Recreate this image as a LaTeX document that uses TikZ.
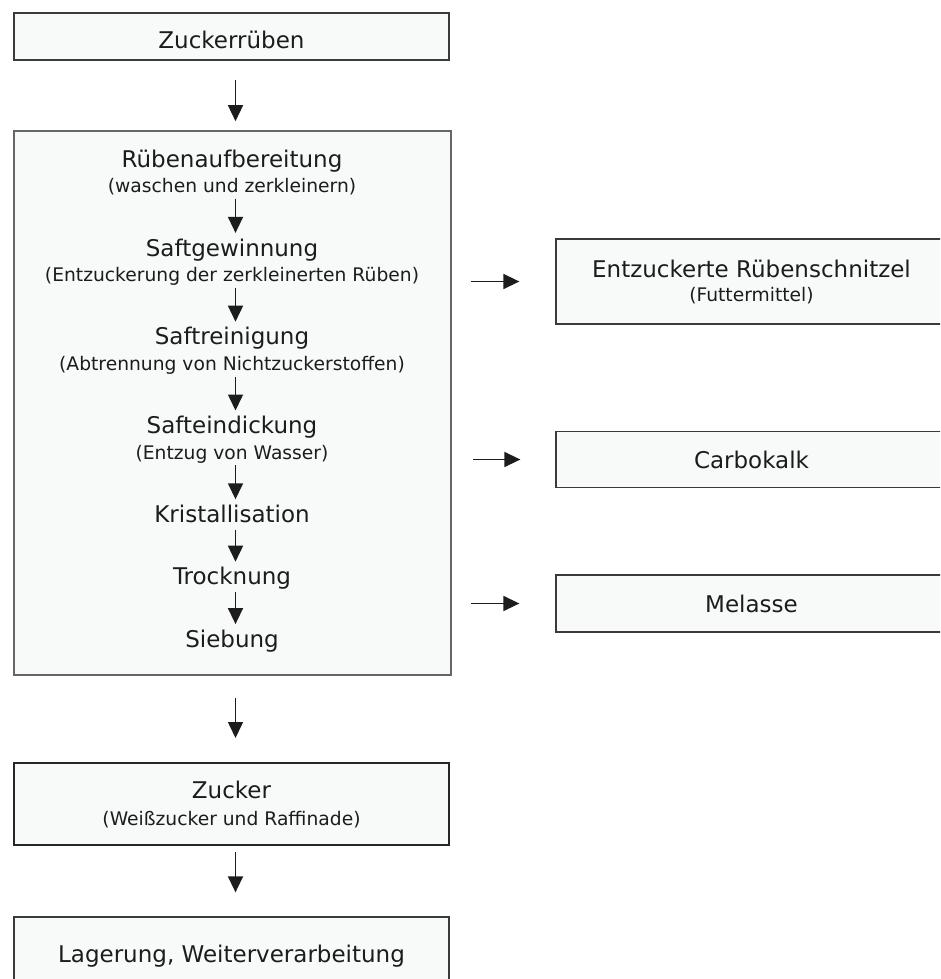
\documentclass[tikz,border=0pt]{standalone}
\usepackage{fontspec}
\setmainfont{DejaVu Sans}
\usetikzlibrary{positioning,arrows.meta}

\definecolor{boxfill}{HTML}{F8F9F9}
\definecolor{boxline}{HTML}{3A3A3A}
\definecolor{inktext}{HTML}{1C1C1C}

\newcommand\titlefont{\fontsize{23}{27}\selectfont}
\newcommand\subfont{\fontsize{18.7}{27}\selectfont}

\tikzset{
  box/.style={draw=boxline, line width=1.3pt, fill=boxfill, text=inktext, font=\titlefont,
    align=center, inner sep=0pt, minimum width=435pt},
  sidebox/.style={box, minimum width=391pt},
  steptitle/.style={text=inktext, font=\titlefont, inner sep=0pt, text height=17.5pt, text depth=5.5pt},
  stepsub/.style={text=inktext, font=\subfont, inner sep=0pt, text height=14pt, text depth=4.5pt},
  arr/.style={-{Triangle[width=15pt,length=16pt]}, line width=1.5pt, draw=inktext},
}

\begin{document}
\begin{tikzpicture}[x=1pt, y=-1pt, node distance=5.5pt]
\useasboundingbox (0,0) rectangle (940,979);
\clip (0,0) rectangle (940,979);
\coordinate (axis) at (235.5,0);

\node[box, minimum height=47pt, text height=24pt, text depth=0pt] (rueben) at (231.5,36.5) {Zuckerrüben};
\node[box, draw=black!60, line width=1.6pt, minimum width=437pt, minimum height=544pt] (proc) at (232.5,403) {};
\node[box, draw=black!85, line width=2pt, minimum height=82pt] (zucker) at (231.5,804)
  {Zucker\\\subfont(Weißzucker und Raffinade)};
\node[box, minimum height=78pt] (lager) at (231.5,956) {Lagerung, Weiterverarbeitung};

% steps inside the process box
\node[steptitle, anchor=base] (aufb) at (232,167.3) {Rübenaufbereitung};
\node[stepsub, below=of aufb] (aufbsub) {(waschen und zerkleinern)};
\node[steptitle, below=41pt of aufbsub] (gewin) {Saftgewinnung};
\node[stepsub, below=of gewin] (gewinsub) {(Entzuckerung der zerkleinerten Rüben)};
\node[steptitle, below=41pt of gewinsub] (reinig) {Saftreinigung};
\node[stepsub, below=of reinig] (reinigsub) {(Abtrennung von Nichtzuckerstoffen)};
\node[steptitle, below=41pt of reinigsub] (eindick) {Safteindickung};
\node[stepsub, below=of eindick] (eindicksub) {(Entzug von Wasser)};
\node[steptitle, below=41pt of eindicksub] (krist) {Kristallisation};
\node[steptitle, below=39pt of krist] (trock) {Trocknung};
\node[steptitle, below=39pt of trock] (sieb) {Siebung};

% by-products
\node[sidebox, minimum height=85pt] (schnitzel) at (751.5,281.5)
  {Entzuckerte Rübenschnitzel\\[-3pt]\subfont(Futtermittel)};
\node[sidebox, minimum height=56pt] (kalk) at (751.5,459.5) {Carbokalk};
\node[sidebox, minimum height=57pt] (melasse) at (751.5,603.5) {Melasse};

\coordinate (schnitzelin) at ([xshift=-84pt]schnitzel.west);
\coordinate (kalkin) at ([xshift=-82pt]kalk.west);
\coordinate (melassein) at ([xshift=-84pt]melasse.west);

\draw[arr, shorten <=19pt, shorten >=9pt] (rueben.south -| axis) -- (proc.north -| axis);
\draw[arr, shorten <=22pt, shorten >=24pt] (proc.south -| axis) -- (zucker.north -| axis);
\draw[arr, shorten <=6pt, shorten >=24pt] (zucker.south -| axis) -- (lager.north -| axis);

\draw[arr, shorten <=1.5pt, shorten >=5.5pt] (aufbsub.south -| axis) -- (gewin.north -| axis);
\draw[arr, shorten <=1.5pt, shorten >=5.5pt] (gewinsub.south -| axis) -- (reinig.north -| axis);
\draw[arr, shorten <=1.5pt, shorten >=5.5pt] (reinigsub.south -| axis) -- (eindick.north -| axis);
\draw[arr, shorten <=1.5pt, shorten >=5.5pt] (eindicksub.south -| axis) -- (krist.north -| axis);
\draw[arr, shorten <=1.5pt, shorten >=5.5pt] (krist.south -| axis) -- (trock.north -| axis);
\draw[arr, shorten <=1.5pt, shorten >=5.5pt] (trock.south -| axis) -- (sieb.north -| axis);

\draw[arr, shorten >=36pt] (schnitzelin) -- (schnitzel.west);
\draw[arr, shorten >=35pt] (kalkin) -- (kalk.west);
\draw[arr, shorten >=36pt] (melassein) -- (melasse.west);
\end{tikzpicture}
\end{document}
